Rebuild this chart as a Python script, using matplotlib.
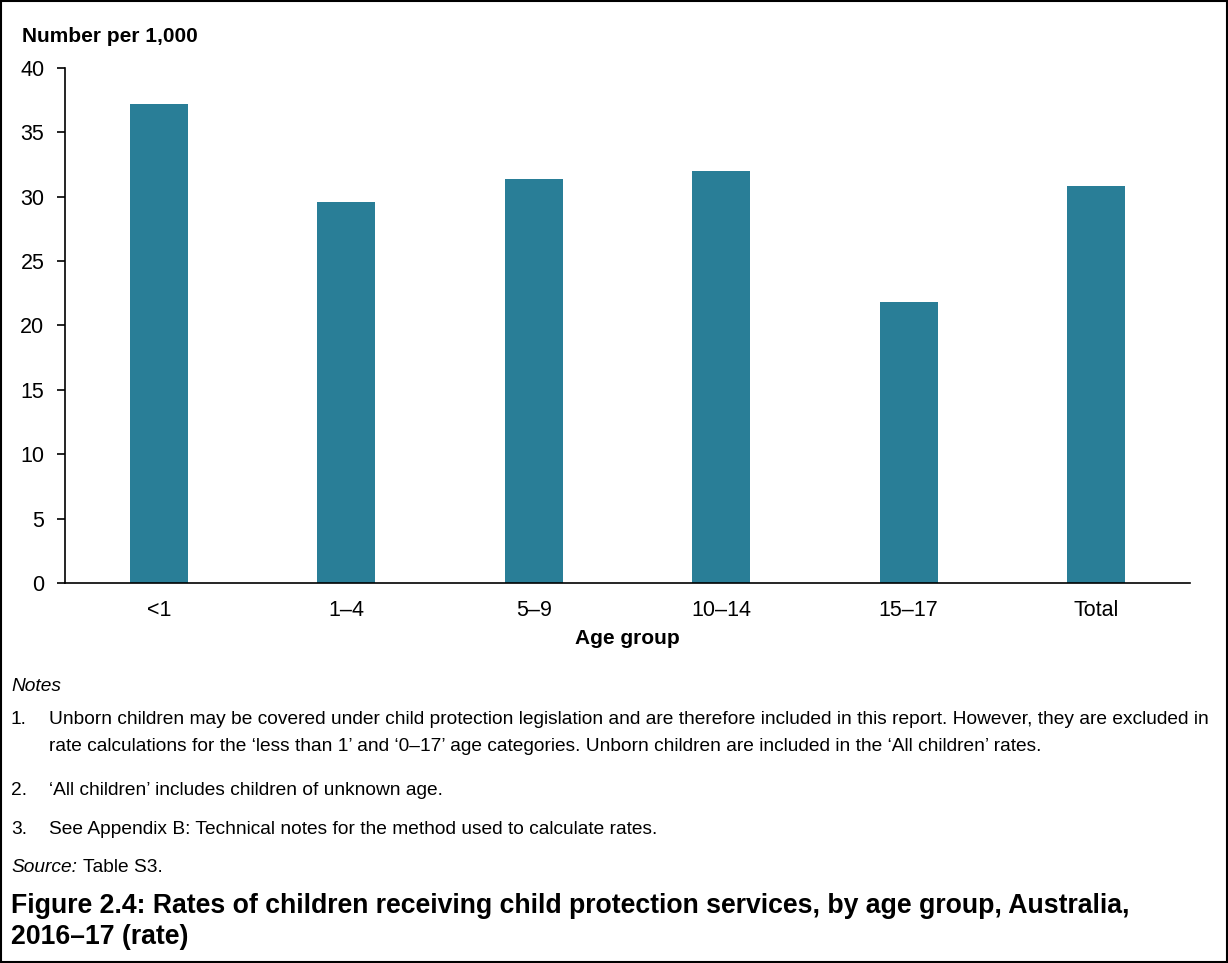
import numpy as np
import matplotlib.pyplot as plt
from matplotlib.patches import Rectangle

plt.rcParams['font.family'] = ['Liberation Sans', 'DejaVu Sans']

grupos = ["<1", "1–4", "5–9", "10–14", "15–17", "Total"]
taxas = [37.2, 29.6, 31.4, 32.0, 21.8, 30.8]
y_ticks = [0, 5, 10, 15, 20, 25, 30, 35, 40]

COR = "#297E97"

fig = plt.figure(figsize=(12.28, 9.63), dpi=100)
ax = fig.add_axes([0.053, 0.3946, 0.916, 0.5348])

x = np.arange(len(grupos))
ax.bar(x, taxas, width=0.31, color=COR)

ax.set_xlim(-0.5, len(grupos) - 0.5)
ax.set_ylim(0, 40)
ax.set_yticks(y_ticks)
ax.set_xticks(x)
ax.set_xticklabels(grupos, fontsize=15.5)
ax.tick_params(axis="y", labelsize=15.5, length=6, width=1.2, pad=9)
ax.tick_params(axis="x", length=0, pad=12)
for lado in ["top", "right"]:
    ax.spines[lado].set_visible(False)
for lado in ["left", "bottom"]:
    ax.spines[lado].set_linewidth(1.2)

ax.set_xlabel("Age group", fontsize=15, fontweight="bold", labelpad=6)

# textos fora do grafico (coordenadas em pixels da figura)
W, H = 1228, 963
def texto(px, py, s, **kw):
    fig.text(px / W, 1 - py / H, s, va="center", ha="left", **kw)

NOTA = 13.8
texto(22, 37, "Number per 1,000", fontsize=15, fontweight="bold")
texto(11, 686, "Notes", fontsize=NOTA, style="italic")
texto(11, 720, "1.", fontsize=NOTA)
texto(49, 720, "Unborn children may be covered under child protection legislation and are therefore "
      "included in this report. However, they are excluded in", fontsize=NOTA)
texto(49, 746, "rate calculations for the ‘less than 1’ and ‘0–17’ age categories. Unborn children "
      "are included in the ‘All children’ rates.", fontsize=NOTA)
texto(11, 790, "2.", fontsize=NOTA)
texto(49, 790, "‘All children’ includes children of unknown age.", fontsize=NOTA)
texto(11, 829, "3.", fontsize=NOTA)
texto(49, 829, "See Appendix B: Technical notes for the method used to calculate rates.", fontsize=NOTA)
texto(11, 868, "Source:", fontsize=NOTA, style="italic")
texto(83, 868, "Table S3.", fontsize=NOTA)
texto(11, 906, "Figure 2.4: Rates of children receiving child protection services, by age group, Australia,",
      fontsize=19.2, fontweight="bold")
texto(11, 937, "2016–17 (rate)", fontsize=19.2, fontweight="bold")

fig.patches.append(Rectangle((0.001, 0.001), 0.998, 0.998, transform=fig.transFigure,
                             fill=False, edgecolor="black", linewidth=1.5))

fig.savefig("out.png", dpi=100)
